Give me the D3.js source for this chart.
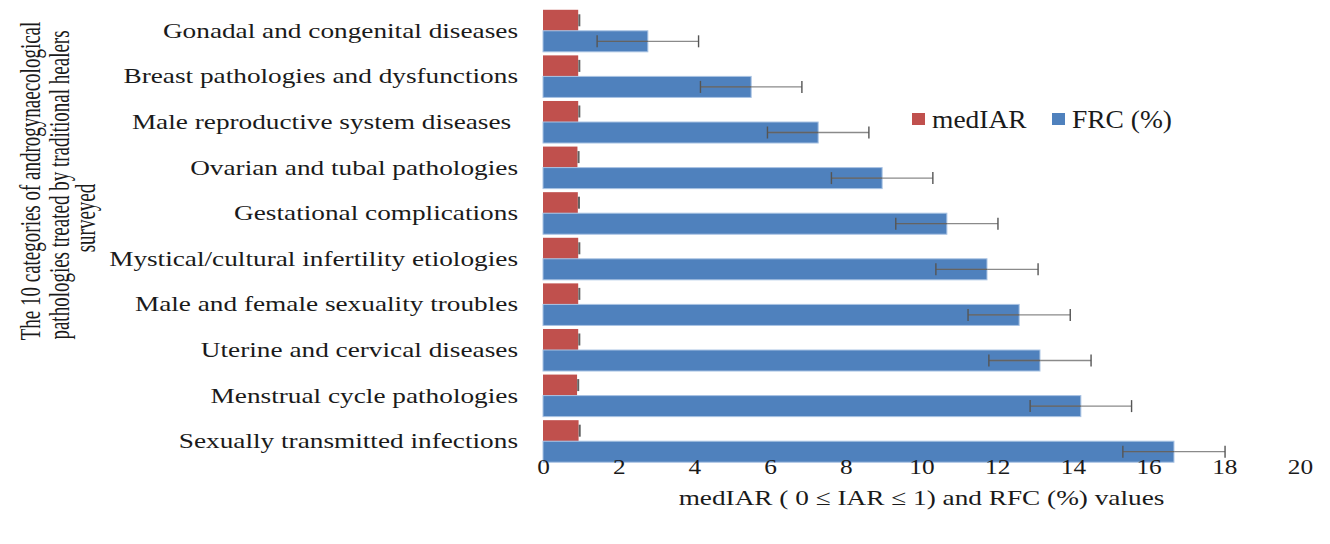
<!DOCTYPE html>
<html>
<head>
<meta charset="utf-8">
<script src="https://cdn.jsdelivr.net/npm/d3@7/dist/d3.min.js"></script>
<style>
  body { margin: 0; background: #fff; }
  svg { display: block; }
  text { font-family: "Liberation Serif", "Times New Roman", serif; fill: #1a1a1a; }
</style>
</head>
<body>
<svg id="chart"></svg>
<script>
// categories, top to bottom
var categories = [
  "Gonadal and congenital diseases",
  "Breast pathologies and dysfunctions",
  "Male reproductive system diseases\u00a0",
  "Ovarian and tubal pathologies",
  "Gestational complications",
  "Mystical/cultural infertility etiologies",
  "Male and female sexuality troubles",
  "Uterine and cervical diseases",
  "Menstrual cycle pathologies",
  "Sexually transmitted infections"
];
var medIAR    = [0.93, 0.93, 0.93, 0.91, 0.92, 0.93, 0.93, 0.93, 0.90, 0.94];
var medIARErr = [0.03, 0.03, 0.03, 0.03, 0.03, 0.03, 0.03, 0.03, 0.03, 0.03];
var frc       = [2.77, 5.50, 7.27, 8.96, 10.67, 11.73, 12.58, 13.13, 14.21, 16.67];
var frcErr    = [1.34, 1.34, 1.34, 1.34, 1.35, 1.35, 1.35, 1.35, 1.34, 1.35];
var xTicks    = [0, 2, 4, 6, 8, 10, 12, 14, 16, 18, 20];
var seriesNames = ["medIAR", "FRC (%)"];
var seriesColors = ["#c0504d", "#4f81bd"];

var W = 1330, H = 544;
var SX = 1.24; // the source picture is stretched horizontally

var svg = d3.select("#chart").attr("width", W).attr("height", H);

var x = d3.scaleLinear().domain([0, 20]).range([543, 1300]);

var y = d3.scaleBand()
  .domain(categories)
  .range([8, 464])
  .paddingInner(0.078)
  .paddingOuter(0.039);

var ySub = d3.scaleBand()
  .domain(seriesNames)
  .range([0, y.bandwidth()]);

var rows = categories.map(function(c, i) {
  return { cat: c, med: medIAR[i], medErr: medIARErr[i], frc: frc[i], frcErr: frcErr[i] };
});

// stretched text helper
function label(parent, tx, ty, str, size, anchor, rot, sx) {
  var g = parent.append("g")
    .attr("transform", "translate(" + tx + "," + ty + ") scale(" + (sx || SX) + ",1)" + (rot ? " rotate(" + rot + ")" : ""));
  return g.append("text")
    .attr("text-anchor", anchor || "start")
    .style("font-size", size + "px")
    .text(str);
}

// ── Bars ─────────────────────────────────────
var g = svg.append("g");

rows.forEach(function(d) {
  var y0 = y(d.cat);
  var yRed = y0 + ySub("medIAR");
  var yBlue = y0 + ySub("FRC (%)");
  var bh = ySub.bandwidth();

  g.append("rect")
    .attr("x", x(0)).attr("y", yRed)
    .attr("width", x(d.med) - x(0)).attr("height", bh)
    .attr("fill", seriesColors[0]);

  // tiny error mark on medIAR
  var cyR = yRed + bh / 2;
  g.append("line")
    .attr("x1", x(d.med + d.medErr)).attr("x2", x(d.med + d.medErr))
    .attr("y1", cyR - 6).attr("y2", cyR + 6)
    .attr("stroke", "#3a3a3a").attr("stroke-width", 2).attr("opacity", 0.8);

  g.append("rect")
    .attr("x", x(0)).attr("y", yBlue)
    .attr("width", x(d.frc) - x(0)).attr("height", bh)
    .attr("fill", seriesColors[1])
    .attr("stroke", "#a9c3e3").attr("stroke-width", 1);

  // error bar on FRC
  var cy = yBlue + bh / 2;
  var lo = x(d.frc - d.frcErr), hi = x(d.frc + d.frcErr);
  g.append("line")
    .attr("x1", lo).attr("x2", hi).attr("y1", cy).attr("y2", cy)
    .attr("stroke", "#8a8a8a").attr("stroke-width", 1.3);
  g.append("line")
    .attr("x1", lo).attr("x2", x(d.frc)).attr("y1", cy).attr("y2", cy)
    .attr("stroke", "#4a4a4a").attr("stroke-width", 1.3).attr("opacity", 0.6);
  [lo, hi].forEach(function(xx) {
    g.append("line")
      .attr("x1", xx).attr("x2", xx).attr("y1", cy - 6).attr("y2", cy + 6)
      .attr("stroke", "#555").attr("stroke-width", 1.4);
  });

  // category label
  label(svg, 518, yRed + bh + 7, d.cat, 22, "end");
});

// ── X axis ───────────────────────────────────
var ax = svg.append("g")
  .attr("transform", "translate(0,452)")
  .call(d3.axisBottom(x).tickValues(xTicks).tickSize(0).tickPadding(0).tickFormat(d3.format("d")));
ax.select(".domain").remove();
ax.selectAll(".tick text").remove();
ax.selectAll(".tick").each(function(t) {
  label(d3.select(this), 0, 22, String(t), 22, "middle", 0, 1.15);
});

label(svg, (x(0) + x(20)) / 2, 505, "medIAR ( 0 \u2264 IAR \u2264 1) and RFC (%) values", 22, "middle", 0, 1.24);

// ── Y title ──────────────────────────────────
label(svg, 40, 181, "The 10 categories of androgynaecological", 19, "middle", -90, 1.5);
label(svg, 69, 185, "pathologies treated by traditional healers", 19, "middle", -90, 1.5);
label(svg, 95, 218, "surveyed", 19, "middle", -90, 1.5);

// ── Legend ───────────────────────────────────
var legX = [912, 1052];
seriesNames.forEach(function(s, i) {
  svg.append("rect")
    .attr("x", legX[i]).attr("y", 113)
    .attr("width", 13).attr("height", 12)
    .attr("fill", seriesColors[i]);
  label(svg, legX[i] + 20, 128, s, 25, "start", 0, 1.1);
});
</script>
</body>
</html>
